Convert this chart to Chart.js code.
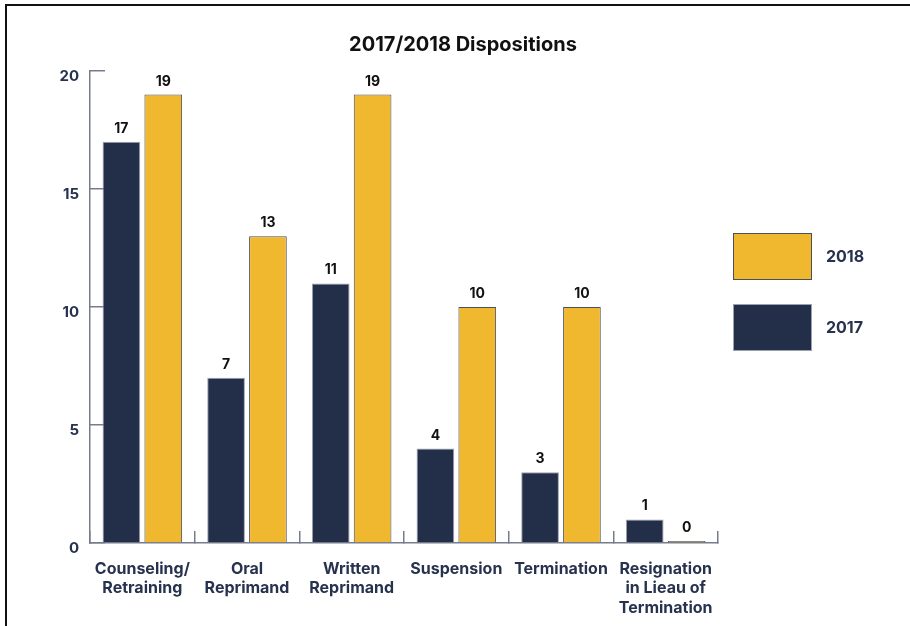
<!DOCTYPE html>
<html>
<head>
<meta charset="utf-8">
<script src="https://cdn.jsdelivr.net/npm/chart.js@4"></script>
<style>
  html, body { margin: 0; padding: 0; background: #fff; overflow: hidden; width: 910px; height: 626px; }
  #frame { position: absolute; left: 5px; top: 4px; width: 960px; height: 700px; border-left: 2px solid #111; border-top: 2px solid #111; }
  #wrap { position: absolute; left: 0; top: 0; width: 926px; height: 640px; }
</style>
</head>
<body>
<div id="frame"></div>
<div id="wrap"><canvas id="chart" width="926" height="640"></canvas></div>
<script>
// Disposition categories (multi-line labels)
const categories = [
  ['Counseling/', 'Retraining'],
  ['Oral', 'Reprimand'],
  ['Written', 'Reprimand'],
  'Suspension',
  'Termination',
  ['Resignation', 'in Lieau of', 'Termination']
];
const values2017 = [17, 7, 11, 4, 3, 1];
const values2018 = [19, 13, 19, 10, 10, 0];
const yTicks = [0, 5, 10, 15, 20];

const NAVY = '#232e48';
const GOLD = '#f0b82e';
const TEXT = '#27324e';
const AXIS = '#767c8c';
const FONT = 'Inter, "Open Sans", sans-serif';

// Draws the count above each bar
const valueLabels = {
  id: 'valueLabels',
  afterDatasetsDraw(chart) {
    const ctx = chart.ctx;
    ctx.save();
    ctx.font = '700 14px ' + FONT;
    ctx.fillStyle = '#111111';
    ctx.textAlign = 'center';
    ctx.textBaseline = 'alphabetic';
    chart.data.datasets.forEach((ds, i) => {
      const meta = chart.getDatasetMeta(i);
      meta.data.forEach((bar, j) => {
        const yTop = Math.min(bar.y, bar.base);
        ctx.fillText(String(ds.data[j]), bar.x, yTop - 9);
      });
    });
    ctx.restore();
  }
};

// Legend as a layout box on the right: large swatches, latest year on top
const sideLegend = {
  id: 'sideLegend',
  beforeInit(chart) {
    const box = {
      position: 'right',
      weight: 1000,
      fullSize: false,
      options: {},
      left: 0, top: 0, right: 0, bottom: 0, width: 0, height: 0,
      isHorizontal() { return false; },
      update(maxWidth, maxHeight) { this.width = 208; this.height = maxHeight; },
      draw() {
        const ctx = chart.ctx;
        const area = chart.chartArea;
        const boxW = 79, boxH = 47, step = 71;
        const x = this.left + 15;
        let y = area.top + 162;
        const items = chart.data.datasets.slice().reverse();
        ctx.save();
        ctx.font = '700 16px ' + FONT;
        ctx.textAlign = 'left';
        ctx.textBaseline = 'middle';
        items.forEach(ds => {
          ctx.fillStyle = ds.backgroundColor;
          ctx.fillRect(x, y, boxW, boxH);
          ctx.strokeStyle = ds.borderColor;
          ctx.lineWidth = 1;
          ctx.strokeRect(x + 0.5, y + 0.5, boxW - 1, boxH - 1);
          ctx.fillStyle = TEXT;
          ctx.fillText(ds.label, x + boxW + 14, y + boxH / 2 + 1);
          y += step;
        });
        ctx.restore();
      }
    };
    Chart.layouts.addBox(chart, box);
  }
};

new Chart(document.getElementById('chart'), {
  type: 'bar',
  data: {
    labels: categories,
    datasets: [
      { label: '2017', data: values2017, backgroundColor: NAVY, borderColor: '#9aa1b1', borderWidth: 1 },
      { label: '2018', data: values2018, backgroundColor: GOLD, borderColor: '#4a4f5e', borderWidth: 1, minBarLength: 2 }
    ]
  },
  options: {
    responsive: false,
    animation: false,
    devicePixelRatio: 1,
    layout: { padding: 0 },
    datasets: { bar: { categoryPercentage: 0.8, barPercentage: 0.9 } },
    plugins: {
      title: {
        display: true,
        text: '2017/2018 Dispositions',
        color: '#111111',
        font: { family: FONT, size: 20, weight: '700', lineHeight: 1.2 },
        padding: { top: 33, bottom: 14 }
      },
      legend: { display: false },
      tooltip: { enabled: false }
    },
    scales: {
      x: {
        border: { display: true, color: AXIS, width: 1.5 },
        grid: { display: true, drawOnChartArea: false, drawTicks: true, tickLength: -12, color: AXIS, lineWidth: 1.5, offset: true },
        ticks: {
          color: TEXT,
          padding: 28,
          maxRotation: 0,
          autoSkip: false,
          font: { family: FONT, size: 16, weight: '700', lineHeight: 1.22 }
        },
        afterFit(scale) { scale.height = 97; }
      },
      y: {
        min: 0,
        max: 20,
        afterBuildTicks(scale) { scale.ticks = yTicks.map(v => ({ value: v })); },
        border: { display: true, color: AXIS, width: 1.5 },
        grid: { display: true, drawOnChartArea: false, drawTicks: true, tickLength: -15, color: AXIS, lineWidth: 1.5 },
        ticks: {
          color: TEXT,
          padding: 26,
          labelOffset: 5,
          font: { family: FONT, size: 15, weight: '700' }
        },
        afterFit(scale) { scale.width = 90; }
      }
    }
  },
  plugins: [valueLabels, sideLegend]
});
</script>
</body>
</html>
